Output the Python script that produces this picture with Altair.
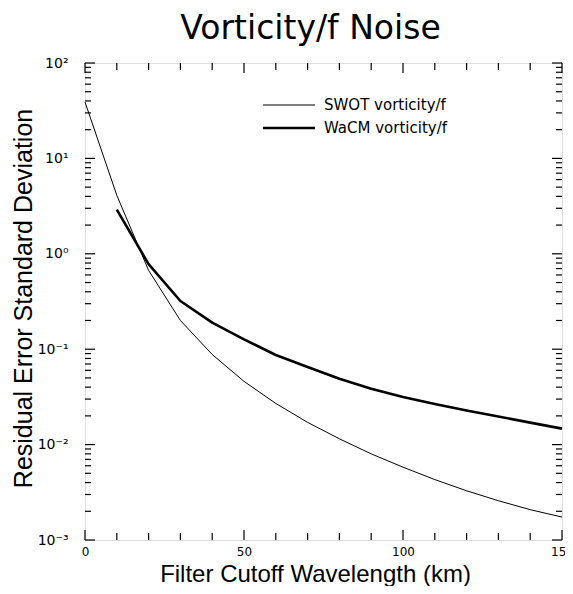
import altair as alt
import pandas as pd

# ---- data ----
wavelength = [0, 10, 20, 30, 40, 50, 60, 70, 80, 90, 100, 110, 120, 130, 140, 150]
swot = [39, 4.1, 0.67, 0.20, 0.088, 0.046, 0.027, 0.0171, 0.0115, 0.0080,
        0.0058, 0.0043, 0.00328, 0.00258, 0.00208, 0.00174]
wacm_x = [10, 20, 30, 40, 50, 60, 70, 80, 90, 100, 110, 120, 130, 140, 150]
wacm = [2.9, 0.78, 0.32, 0.19, 0.127, 0.087, 0.065, 0.049, 0.0386, 0.0316,
        0.0267, 0.0228, 0.0197, 0.0170, 0.0147]
series_names = ["SWOT vorticity/f", "WaCM vorticity/f"]
series_widths = [1.0, 2.6]

x_major = [0, 50, 100, 150]
x_minor = [v for v in range(0, 151, 10) if v not in x_major]
y_major = [1e-3, 1e-2, 1e-1, 1e0, 1e1, 1e2]
y_minor = [k * 10.0 ** e for e in range(-3, 2) for k in range(2, 10)]

W, H = 477, 477
FONT = "DejaVu Sans"

rows = []
for x, v in zip(wavelength, swot):
    rows.append({"x": x, "v": v, "series": series_names[0]})
for x, v in zip(wacm_x, wacm):
    rows.append({"x": x, "v": v, "series": series_names[1]})
df = pd.DataFrame(rows)

xscale = alt.Scale(domain=[0, 150], nice=False, zero=False)
yscale = alt.Scale(type="log", domain=[1e-3, 1e2], nice=False)

x_axis = alt.Axis(title="Filter Cutoff Wavelength (km)", values=x_major,
                  format="d", ticks=False, tickSize=0, domain=False, grid=False,
                  labelPadding=6, labelFontSize=12, labelFont=FONT,
                  labelColor="black", labelFlush=False,
                  titleFont="Liberation Sans", titleFontSize=24, titleX=230,
                  titleFontWeight="normal", titleColor="black", titlePadding=5)
y_axis = alt.Axis(title="Residual Error Standard Deviation", values=y_major,
                  labelExpr="['10⁻³','10⁻²','10⁻¹','10⁰','10¹','10²'][round(log(datum.value)/LN10)+3]",
                  ticks=False, tickSize=0, domain=False, grid=False,
                  labelPadding=17, labelFontSize=14, labelFont=FONT,
                  labelColor="black",
                  titleFont="Liberation Sans", titleFontSize=25, titleY=235,
                  titleFontWeight="normal", titleColor="black", titlePadding=1)

lines = alt.Chart(df).mark_line(color="black", strokeJoin="round").encode(
    x=alt.X("x:Q", scale=xscale, axis=x_axis),
    y=alt.Y("v:Q", scale=yscale, axis=y_axis),
    strokeWidth=alt.StrokeWidth("series:N",
                                scale=alt.Scale(domain=series_names, range=series_widths),
                                legend=None),
    detail="series:N",
)


def xticks(vals, length, top):
    d = pd.DataFrame({"t": vals})
    if top:
        yy, yy2 = alt.value(0), alt.value(length)
    else:
        yy, yy2 = alt.value(H), alt.value(H - length)
    return alt.Chart(d).mark_rule(color="black", strokeWidth=1.2).encode(
        x=alt.X("t:Q", scale=xscale, axis=x_axis), y=yy, y2=yy2)


def yticks(vals, length, right):
    d = pd.DataFrame({"t": vals})
    if right:
        xx, xx2 = alt.value(W), alt.value(W - length)
    else:
        xx, xx2 = alt.value(0), alt.value(length)
    return alt.Chart(d).mark_rule(color="black", strokeWidth=1.2).encode(
        y=alt.Y("t:Q", scale=yscale, axis=y_axis), x=xx, x2=xx2)


tick_layers = [
    xticks(x_major, 10, False), xticks(x_minor, 7, False),
    xticks(x_major, 10, True), xticks(x_minor, 7, True),
    yticks(y_major, 10, False), yticks(y_minor, 6, False),
    yticks(y_major, 10, True), yticks(y_minor, 6, True),
]

legend_layers = []
for i, (name, w) in enumerate(zip(series_names, series_widths)):
    ld = pd.DataFrame({"label": [name]})
    yv = 42 + 23 * i
    legend_layers.append(
        alt.Chart(ld).mark_rule(color="black", strokeWidth=w).encode(
            x=alt.value(178), x2=alt.value(230), y=alt.value(yv)))
    legend_layers.append(
        alt.Chart(ld).mark_text(align="left", baseline="middle", font=FONT,
                                fontSize=15, color="black").encode(
            text="label:N", x=alt.value(239), y=alt.value(yv)))

chart = alt.layer(lines, *tick_layers, *legend_layers).properties(
    width=W, height=H,
    autosize=alt.AutoSizeParams(type="none"),
    padding={"left": 77, "top": 55, "right": 3, "bottom": 46},
    title=alt.TitleParams("Vorticity/f Noise", font=FONT, fontSize=33,
                          fontWeight="normal", color="black", anchor="middle",
                          dx=-13, offset=10),
).configure_view(stroke="black", strokeWidth=1.5).configure(background="white")

chart.save("out.html", embed_options={"renderer": "svg", "actions": False})
